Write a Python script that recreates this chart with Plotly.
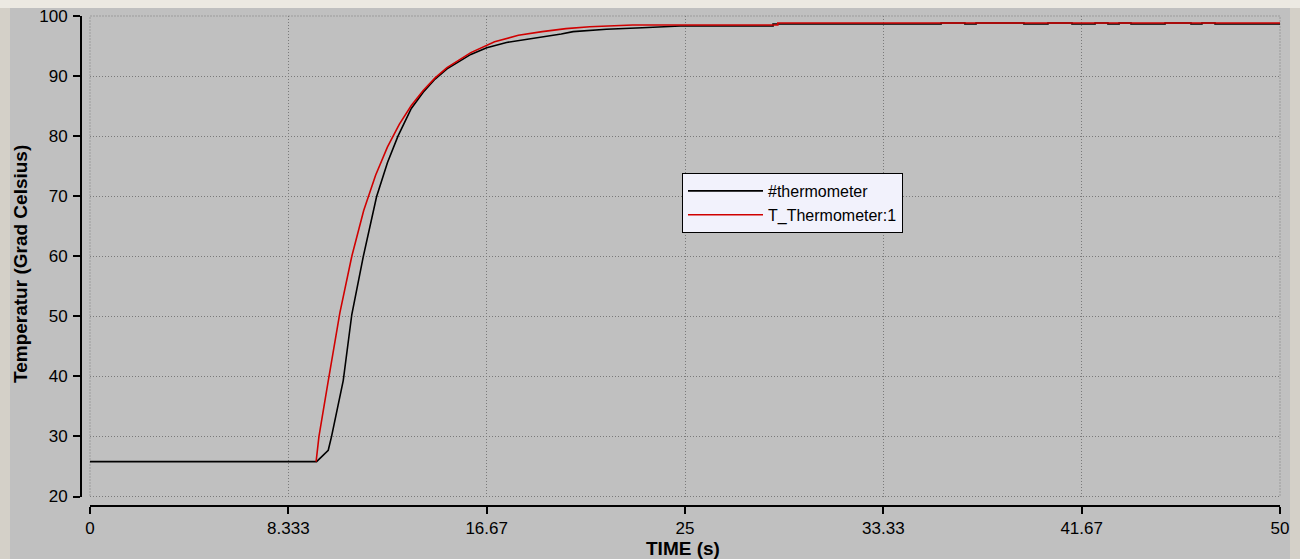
import plotly.graph_objects as go

# ---- data ----
t_thermo = [0, 9.52, 10.01, 10.15, 10.64, 11.0, 11.48, 12.04, 12.5, 12.94, 13.5, 14.0, 14.5, 15.0,
            16.0, 16.67, 17.5, 18.9, 19.8, 20.3, 21.7, 23.2, 24.8, 28.7, 28.7,
            35.76, 35.76, 36.76, 36.76, 37.23, 37.23, 39.24, 39.24, 40.25, 40.25, 41.26, 41.26,
            42.23, 42.23, 42.77, 42.77, 43.24, 43.24, 43.74, 43.74, 45.17, 45.17, 46.26, 46.26,
            46.72, 46.72, 47.27, 47.27, 50]
T_thermo = [25.8, 25.8, 27.7, 30.0, 39.3, 50.3, 59.9, 69.9, 75.6, 80.0, 84.6, 87.3, 89.5, 91.2,
            93.6, 94.7, 95.6, 96.4, 97.0, 97.4, 97.8, 98.05, 98.33, 98.33, 98.67,
            98.67, 98.83, 98.83, 98.67, 98.67, 98.83, 98.83, 98.67, 98.67, 98.83, 98.83, 98.67,
            98.67, 98.83, 98.83, 98.67, 98.67, 98.83, 98.83, 98.67, 98.67, 98.83, 98.83, 98.67,
            98.67, 98.83, 98.83, 98.67, 98.67]

t_model = [9.5, 9.62, 10.0, 10.5, 11.0, 11.5, 12.0, 12.5, 13.0, 13.5, 14.0, 14.5, 15.0, 16.0,
           17.0, 18.0, 19.0, 20.0, 21.0, 22.0, 22.8, 28.9, 28.9, 50]
T_model = [25.8, 30.0, 39.0, 50.6, 60.0, 67.6, 73.5, 78.2, 82.0, 85.1, 87.6, 89.7, 91.4, 93.9,
           95.7, 96.8, 97.4, 97.9, 98.2, 98.4, 98.5, 98.5, 98.83, 98.83]

series_names = ["#thermometer", "T_Thermometer:1"]
x_tickvals = [0, 8.3333, 16.6667, 25, 33.3333, 41.6667, 50]
x_ticktext = ["0", "8.333", "16.67", "25", "33.33", "41.67", "50"]
y_tickvals = [20, 30, 40, 50, 60, 70, 80, 90, 100]
x_title = "TIME (s)"
y_title = "Temperatur (Grad Celsius)"

W, H = 1300, 559
FONT = "Liberation Sans, Arial, sans-serif"

fig = go.Figure()
fig.add_trace(go.Scatter(x=t_thermo, y=T_thermo, mode="lines", name=series_names[0],
                         line=dict(color="#000000", width=1.6)))
fig.add_trace(go.Scatter(x=t_model, y=T_model, mode="lines", name=series_names[1],
                         line=dict(color="#d00000", width=1.6)))

grid = dict(showgrid=True, gridcolor="#7a7a7a", gridwidth=1, griddash="1px,2px", zeroline=False)

fig.update_layout(
    width=W, height=H,
    margin=dict(l=0, r=0, t=0, b=0, autoexpand=False),
    paper_bgcolor="#c0c0c0", plot_bgcolor="#c0c0c0",
    font=dict(family=FONT, size=17, color="#000000"),
    xaxis=dict(domain=[90 / W, 1280 / W], range=[0, 50], anchor="free", automargin=False,
               position=1 - 506 / H, showline=True, linecolor="#000000", linewidth=2,
               ticks="outside", ticklen=7, tickwidth=1.5, tickcolor="#000000",
               tickvals=x_tickvals, ticktext=x_ticktext, **grid),
    yaxis=dict(domain=[1 - 496.5 / H, 1 - 16 / H], range=[20, 100], anchor="free", automargin=False,
               position=81 / W, showline=True, linecolor="#000000", linewidth=2,
               ticks="outside", ticklen=7, tickwidth=1.5, tickcolor="#000000",
               tickvals=y_tickvals, ticklabelstandoff=2, **grid),
    showlegend=True,
    legend=dict(x=682 / W, y=1 - 173 / H, xanchor="left", yanchor="top",
                bgcolor="#f2f2fc", bordercolor="#000000", borderwidth=1,
                font=dict(family=FONT, size=16, color="#000000"),
                itemwidth=75, tracegroupgap=0),
    annotations=[
        dict(text="<b>" + x_title + "</b>", xref="paper", yref="paper",
             x=683 / W, y=1 - 548 / H, showarrow=False, xanchor="center", yanchor="middle",
             font=dict(family=FONT, size=19)),
        dict(text="<b>" + y_title + "</b>", xref="paper", yref="paper",
             x=20 / W, y=1 - 264 / H, showarrow=False, textangle=-90,
             xanchor="center", yanchor="middle", font=dict(family=FONT, size=19)),
    ],
    shapes=[
        dict(type="rect", xref="paper", yref="paper", x0=0, x1=10 / W, y0=0, y1=1,
             fillcolor="#d4d0c8", line=dict(width=0), layer="below"),
        dict(type="rect", xref="paper", yref="paper", x0=1290 / W, x1=1, y0=0, y1=1,
             fillcolor="#d4d0c8", line=dict(width=0), layer="below"),
        dict(type="rect", xref="paper", yref="paper", x0=0, x1=1, y0=1 - 8 / H, y1=1,
             fillcolor="#ece9e2", line=dict(width=0), layer="below"),
        dict(type="rect", xref="x domain", yref="y domain", x0=0, x1=1, y0=0, y1=1,
             line=dict(color="#7a7a7a", width=1, dash="1px,2px"), layer="below"),
    ],
)

fig.write_html("out.html", config={"displayModeBar": False},
               post_script="document.body.style.margin='0px';")
